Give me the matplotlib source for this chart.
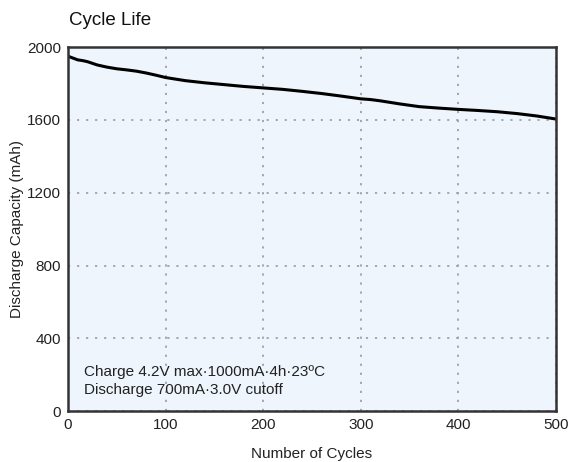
import matplotlib

matplotlib.use("Agg")
import matplotlib.pyplot as plt

# values
cycles = [0, 5, 10, 15, 20, 30, 40, 50, 60, 70, 80, 90, 100, 120, 140, 160, 180,
          200, 220, 240, 260, 280, 300, 310, 320, 340, 360, 380, 400, 420, 440,
          460, 480, 500]
capacity = [1950, 1940, 1930, 1926, 1920, 1902, 1890, 1881, 1875, 1868, 1858,
            1846, 1833, 1816, 1804, 1794, 1784, 1776, 1768, 1757, 1745, 1731,
            1716, 1712, 1705, 1688, 1673, 1665, 1658, 1652, 1645, 1635, 1622, 1605]

x_ticks = [0, 100, 200, 300, 400, 500]
y_ticks = [0, 400, 800, 1200, 1600, 2000]
notes = ["Charge 4.2V max\u00b71000mA\u00b74h\u00b723\u00baC",
         "Discharge 700mA\u00b73.0V cutoff"]

plt.rcParams["font.family"] = ["Liberation Sans", "DejaVu Sans"]

fig = plt.figure(figsize=(5.68, 4.62), dpi=100)
ax = fig.add_axes([0.1197, 0.110, 0.859, 0.788])
ax.set_facecolor("#eef5fc")

ax.plot(cycles, capacity, color="black", lw=2.2, solid_capstyle="round")

ax.set_xlim(0, 500)
ax.set_ylim(0, 2000)
ax.set_xticks(x_ticks)
ax.set_yticks(y_ticks)
ax.grid(True, color="#a0a0a0", ls=(0, (1.2, 3.8)), lw=1.3)
ax.tick_params(length=0, labelsize=11, pad=5, colors="#222222")
for s in ax.spines.values():
    s.set_color("#333333")
    s.set_linewidth(1.8)

ax.set_xlabel("Number of Cycles", fontsize=11, labelpad=11, color="#222222")
ax.set_ylabel("Discharge Capacity (mAh)", fontsize=11, labelpad=2, color="#222222")
fig.text(0.121, 0.945, "Cycle Life", fontsize=13.5, ha="left", va="baseline", color="#111111")

ax.text(0.033, 0.040, notes[0] + "\n" + notes[1], transform=ax.transAxes,
        fontsize=11, ha="left", va="bottom", color="#222222", linespacing=1.35)

fig.savefig("out.png", dpi=100)
